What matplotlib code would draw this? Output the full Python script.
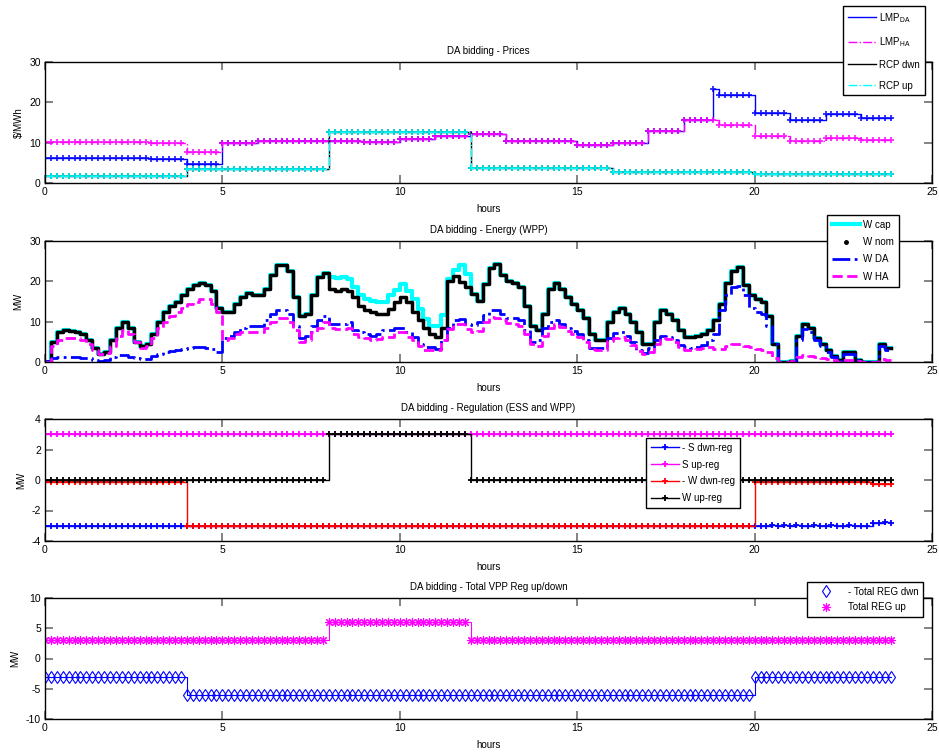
import numpy as np
import matplotlib as mpl
import matplotlib.pyplot as plt
from matplotlib.lines import Line2D

mpl.rcParams['font.family'] = ['Liberation Sans', 'DejaVu Sans']
mpl.rcParams['font.size'] = 7
mpl.rcParams['mathtext.fontset'] = 'custom'
mpl.rcParams['mathtext.rm'] = 'Liberation Sans'
mpl.rcParams['axes.linewidth'] = 1.0
mpl.rcParams['axes.unicode_minus'] = False

# 10-minute time axis (144 steps over the day)
t = np.arange(144) / 6.0

# ---- prices ($/MWh) ----
lmp_da = ([6.1] * 18 + [5.9] * 6 + [4.7] * 6 + [10.0] * 6 + [10.3] * 6 + [10.5] * 6
          + [10.5] * 6 + [10.2] * 6 + [10.8] * 6 + [11.7] * 6 + [12.1] * 6 + [10.3] * 6
          + [10.3] * 6 + [9.5] * 6 + [10.0] * 6 + [13.0] * 6 + [15.5] * 5 + [23.3]
          + [21.9] * 6 + [17.3] * 6 + [15.5] * 6 + [17.2] * 6 + [16.0] * 6)
lmp_ha = ([10.2] * 18 + [10.0] * 6 + [7.7] * 6 + [10.0] * 6 + [10.3] * 6 + [10.5] * 6
          + [10.5] * 6 + [10.2] * 6 + [10.8] * 6 + [11.7] * 6 + [12.1] * 6 + [10.3] * 6
          + [10.3] * 6 + [9.5] * 6 + [10.0] * 6 + [13.0] * 6 + [15.5] * 6
          + [14.5] * 6 + [11.6] * 6 + [10.4] * 6 + [11.2] * 6 + [10.6] * 6)
rcp_dwn = [1.8] * 24 + [3.5] * 24 + [12.7] * 24 + [3.8] * 24 + [2.8] * 24 + [2.3] * 24
rcp_up = [1.8] * 24 + [3.5] * 24 + [12.7] * 24 + [3.8] * 24 + [2.8] * 24 + [2.3] * 24

# ---- wind energy (MW) ----
w_nom = [0, 5, 7.5, 8, 7.8, 7.5, 7, 5.5, 3.5, 2, 2.5, 5.5,
         8.5, 10, 8.5, 5, 4, 4.5, 7, 10, 12.5, 14, 15, 16.5,
         18, 19, 19.5, 19, 17.5, 13.5, 12.5, 12.5, 14.5, 16, 17, 16.5,
         16.5, 18, 21.5, 24, 24, 22.5, 16, 11.5, 12, 16.5, 21, 22,
         18, 17.5, 18, 17.5, 16, 14, 13, 12.5, 12, 12, 13.2, 14.8,
         16.2, 15, 12.4, 10.3, 8.5, 7, 6.1, 8.5, 20.2, 21.4, 19.8, 18.5,
         16.9, 15.2, 19.3, 23.4, 24.3, 21.5, 20, 19.5, 18.5, 14, 9, 8,
         12, 18, 19.5, 18, 16, 14.5, 13, 11, 7, 5.5, 5.5, 10,
         12.5, 13.5, 12, 10, 7.5, 4.5, 4.5, 10, 12.8, 12, 10.5, 8,
         6.3, 6.3, 6.5, 7, 8, 10.5, 14.5, 19.5, 22.5, 23.5, 19, 16.5,
         15.5, 15, 11.5, 4.5, 0, 0, 0.3, 6.5, 9.5, 8.5, 6, 4.5,
         3, 1.5, 0.5, 2.5, 2.5, 0.5, 0, 0, 0, 4.5, 3.5, 3.5]
w_cap_curt = [21, 20.8, 21, 20.5, 18.5, 16.5, 15.5, 15.2, 15, 15, 16.5, 17.9,
              19.3, 17.7, 15.7, 13.2, 10.7, 8.9, 8.9, 11.6, 20.5, 22.8, 24.1, 21.8]
w_cap = w_nom[:48] + w_cap_curt + w_nom[72:]
w_da = [0.3, 1, 1.3, 1.3, 1.3, 1.2, 1.1, 0.9, 0.5, 0.2, 0.5, 1.2,
        1.8, 1.7, 1.3, 1, 0.8, 0.8, 1.5, 2, 2.5, 2.8, 3, 3.3,
        3.5, 3.7, 3.7, 3.5, 3.2, 2.5, 6, 6.5, 7.5, 8.5, 9, 9,
        9, 10.5, 12, 13, 13, 12, 9, 6, 6.5, 9, 10.5, 11.5,
        9.5, 9.5, 9.5, 9.8, 8, 7.5, 7, 6.5, 7, 7.9, 7.9, 8.5,
        8.5, 7.5, 6.2, 4.4, 3.6, 3.6, 3.3, 5.4, 8.5, 10.3, 10.7, 9.5,
        9.1, 9.8, 11.6, 12.8, 13, 12, 11, 10.8, 10.5, 8, 5, 5.5,
        8.5, 10, 10.5, 9.5, 8.5, 7.8, 7, 5.5, 3.5, 3.5, 3.5, 6,
        7.3, 7.5, 6.5, 5, 3, 2.3, 3.5, 5.5, 6.5, 6.3, 5.5, 4.3,
        3.6, 3.5, 3.8, 4.2, 5.5, 7, 13, 16.5, 18.5, 18.8, 16.5, 13.5,
        12.5, 12, 9, 4.5, 0, 0, 0.3, 5.5, 8.3, 7.5, 5.5, 4,
        2.5, 1.2, 0.3, 2, 2, 0.5, 0, 0, 0, 4, 3, 2.5]
w_ha = [0, 4, 5.5, 6, 6, 6, 5.5, 4.5, 3, 2, 2.3, 4,
        6.5, 8, 7, 5, 3.5, 4, 6, 8.5, 10, 11.5, 12.5, 13.5,
        14.5, 15, 15.5, 15.5, 14.5, 12.5, 5.5, 6, 7, 7.5, 7.5, 7.5,
        7.5, 8.5, 10, 11, 11, 10, 8, 5, 5.5, 7.5, 8.5, 10,
        8.5, 8.3, 8.3, 8.5, 7, 6.3, 6, 5.5, 5.7, 6.2, 6.2, 7.5,
        7.5, 6.2, 5.4, 3.9, 3, 3, 3, 5.4, 8.3, 9.5, 9.5, 8.3,
        7.5, 7.8, 9.9, 11.1, 11, 10.3, 9.7, 9.3, 9, 7, 4.5, 4,
        6.5, 8.5, 9.3, 8.8, 7.8, 7, 6.3, 5, 3.3, 3, 3, 5.3,
        6, 6.3, 5.5, 4.3, 2.7, 2, 2.5, 4.5, 6, 5.8, 5, 3.8,
        3, 3, 3.2, 3.5, 3.8, 3.2, 3.3, 4, 4.5, 4.4, 4, 3.7,
        3.3, 3, 2.5, 1, 0, 0, 0.3, 1.2, 1.7, 1.5, 1.2, 1,
        0.7, 0.4, 0, 0.4, 0.5, 0.2, 0, 0, 0, 0.7, 0.6, 0.5]

# ---- regulation (MW) ----
s_dwn = [-3] * 120 + [-3, -3, -3, -2.95, -3, -2.95, -3, -2.95, -3, -3,
                      -2.95, -3, -3, -2.95, -3, -3, -2.95, -3, -3, -3,
                      -2.85, -2.8, -2.75, -2.8]
s_up = [3] * 144
w_dwn = [-0.1] * 24 + [-3] * 96 + [-0.1] * 20 + [-0.25] * 4
w_up = [0] * 48 + [3] * 24 + [0] * 72

# ---- total VPP regulation (MW) ----
tot_dwn = [-3] * 24 + [-6] * 96 + [-3] * 24
tot_up = [3] * 48 + [6] * 24 + [3] * 72

W, H = 939, 755
fig = plt.figure(figsize=(W / 100, H / 100), dpi=100)


def make_axes(top, bottom):
    ax = fig.add_axes([45 / W, 1 - bottom / H, 887 / W, (bottom - top) / H])
    ax.set_xlim(0, 25)
    ax.set_xticks([0, 5, 10, 15, 20, 25])
    ax.tick_params(direction='in', top=True, right=True, length=6, width=1.3,
                   color='#7a7a7a', labelsize=7.5, pad=3)
    ax.set_xlabel('hours', labelpad=5)
    return ax


def leg(ax, handles, labels, x, y, **kw):
    opts = dict(loc='upper left', bbox_to_anchor=(x / W, 1 - y / H),
                bbox_transform=fig.transFigure, borderaxespad=0, fancybox=False,
                framealpha=1, edgecolor='k', fontsize=7, handlelength=2.9,
                handletextpad=0.3, borderpad=0.5)
    opts.update(kw)
    lg = ax.legend(handles, labels, **opts)
    lg.get_frame().set_linewidth(1.0)
    return lg


# Prices
ax1 = make_axes(62, 183)
ax1.set_ylim(0, 30)
ax1.set_yticks([0, 10, 20, 30])
ax1.set_ylabel('$/MWh', labelpad=4)
ax1.set_title('DA bidding - Prices', fontsize=7, pad=6)
h1 = []
for y, c, ls in [(lmp_da, '#0000ff', '-'), (lmp_ha, '#ff00ff', '-.'),
                 (rcp_dwn, 'k', '-'), (rcp_up, '#00ffff', '-.')]:
    ln, = ax1.step(t, y, where='post', color=c, ls=ls, lw=1.0)
    ax1.plot(t, y, ls='none', marker='+', ms=4, mew=1.3, color=c, alpha=0.85)
    h1.append(ln)
leg(ax1, h1, [r'LMP$_{\mathrm{DA}}$', r'LMP$_{\mathrm{HA}}$', 'RCP dwn', 'RCP up'],
    843, 6, labelspacing=1.1)

# Energy
ax2 = make_axes(241, 362)
ax2.set_ylim(0, 30)
ax2.set_yticks([0, 10, 20, 30])
ax2.set_ylabel('MW', labelpad=4)
ax2.set_title('DA bidding - Energy (WPP)', fontsize=7, pad=6)
l_cap, = ax2.step(t, w_cap, where='post', color='#00ffff', lw=3)
ax2.step(t, w_nom, where='post', color='k', lw=2.5)
l_da, = ax2.step(t, w_da, where='post', color='#0000ff', ls='-.', lw=2)
l_ha, = ax2.step(t, w_ha, where='post', color='#ff00ff', ls='--', lw=2)
nom_proxy = Line2D([], [], color='k', marker='.', ms=5, ls='none')
leg(ax2, [l_cap, nom_proxy, l_da, l_ha], ['W cap', 'W nom', 'W DA', 'W HA'],
    827, 215, labelspacing=0.75)

# Regulation
ax3 = make_axes(419, 541)
ax3.set_ylim(-4, 4)
ax3.set_yticks([-4, -2, 0, 2, 4])
ax3.set_ylabel('MW', labelpad=4)
ax3.set_title('DA bidding - Regulation (ESS and WPP)', fontsize=7, pad=6)
h3 = []
for y, c in [(s_dwn, '#0000ff'), (s_up, '#ff00ff'), (w_dwn, '#ff0000'), (w_up, 'k')]:
    ln, = ax3.step(t, y, where='post', color=c, lw=1.0, marker='+', ms=4, mew=1.3)
    h3.append(ln)
leg(ax3, h3, ['- S dwn-reg', 'S up-reg', '- W dwn-reg', 'W up-reg'],
    646, 438, labelspacing=0.7)

# Total VPP regulation
ax4 = make_axes(598, 719)
ax4.set_ylim(-10, 10)
ax4.set_yticks([-10, -5, 0, 5, 10])
ax4.set_ylabel('MW', labelpad=4)
ax4.set_title('DA bidding - Total VPP Reg up/down', fontsize=7, pad=6)
ax4.step(t, tot_dwn, where='post', color='#0000ff', lw=0.8)
m_dwn, = ax4.plot(t, tot_dwn, ls='none', marker='d', ms=6.5, mew=0.8,
                  mfc='none', mec='#0000ff')
ax4.step(t, tot_up, where='post', color='#ff00ff', lw=0.8)
m_up, = ax4.plot(t, tot_up, ls='none', marker=(8, 2, 0), ms=6.5, mew=0.8,
                 color='#ff00ff')
leg(ax4, [m_dwn, m_up], ['- Total REG dwn', 'Total REG up'], 807, 582,
    labelspacing=0.55, handletextpad=0.8)

fig.savefig('out.png', dpi=100)
